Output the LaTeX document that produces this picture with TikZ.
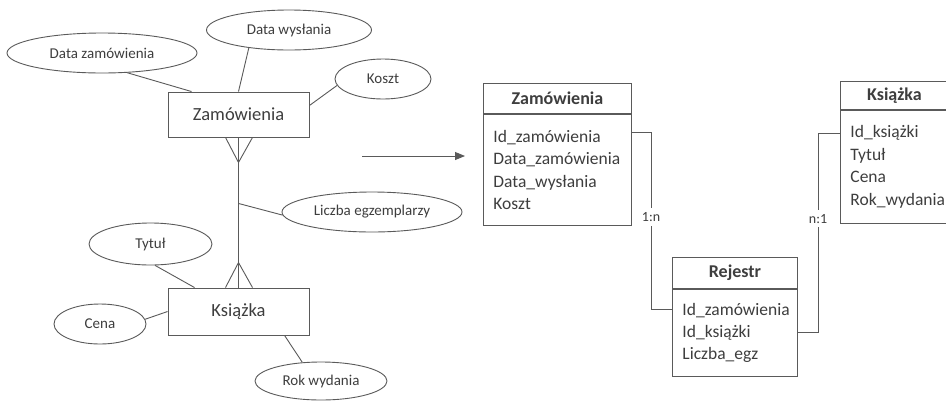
\documentclass[tikz,border=0pt]{standalone}
\usepackage{fontspec}
\setmainfont{Carlito}
\usetikzlibrary{shapes.geometric,arrows.meta,calc}
\definecolor{linec}{HTML}{5A5A5A}
\definecolor{txt}{HTML}{3E3E3E}
\begin{document}
\begin{tikzpicture}[x=1pt,y=-1pt,
  line width=0.9pt,
  entity/.style={draw=linec, rectangle, inner sep=0pt, minimum width=141pt, text=txt,
                 font=\fontsize{18.5}{20}\selectfont},
  attr/.style={draw=linec, ellipse, inner sep=0pt, text=txt, font=\fontsize{15}{17}\selectfont},
  thead/.style={draw=linec, rectangle, inner sep=0pt, text=txt,
                font=\bfseries\fontsize{18}{20}\selectfont},
  tbody/.style={draw=linec, rectangle, inner xsep=10pt, inner ysep=0pt, text=txt, align=left,
                font=\fontsize{17.5}{22.4}\selectfont},
  card/.style={fill=white, inner xsep=1pt, inner ysep=4pt, text=txt, font=\fontsize{14}{16}\selectfont},
  link/.style={draw=linec}
]
\fill[white] (0,0) rectangle (946,400);
\useasboundingbox (0,0) rectangle (946,400);
\clip (0,0) rectangle (946,400);

% ---------- ER diagram ----------
\node[entity, minimum height=45pt] (zm) at (238.5,114.5) {Zamówienia};
\node[entity, minimum height=47pt] (ks) at (238.5,311.5) {Książka};

\node[attr, minimum width=190pt, minimum height=40pt] (dz) at (102,53) {Data zamówienia};
\node[attr, minimum width=165pt, minimum height=40pt] (dw) at (289,30) {Data wysłania};
\node[attr, minimum width=96pt, minimum height=40pt] (ko) at (383,79) {Koszt};
\node[attr, minimum width=180pt, minimum height=40pt] (lz) at (372,212) {Liczba egzemplarzy};
\node[attr, minimum width=123pt, minimum height=42pt] (ty) at (150.5,244) {Tytuł};
\node[attr, minimum width=92pt, minimum height=40pt] (ce) at (100,324) {Cena};
\node[attr, minimum width=132pt, minimum height=38pt] (rk) at (321,381) {Rok wydania};

\draw[link] (dz.-38) -- ($(zm.north west)+(24,0)$);
\draw[link] (dw.204) -- (zm.north);
\draw[link] (ko.188) -- ($(zm.east)+(0,-9)$);
\draw[link] (ty.-78) -- ($(ks.north west)+(27,0)$);
\draw[link] (ce.6) -- (ks.west);
\draw[link] (rk.135) -- ($(ks.south west)+(117,0)$);

% relationship with crow's feet at both ends
\draw[link] (zm.south) -- (ks.north);
\coordinate (topapex) at ($(zm.south)+(0,25)$);
\coordinate (botapex) at ($(ks.north)+(0,-25)$);
\draw[link] ($(zm.south)+(-13,0)$) -- (topapex) -- ($(zm.south)+(14,0)$);
\draw[link] ($(ks.north)+(-13,0)$) -- (botapex) -- ($(ks.north)+(14,0)$);
\coordinate (lzfoot) at ($(zm.south)+(0,66)$);
\draw[link] (lzfoot) -- (lz.182);

% ---------- transformation arrow ----------
\coordinate (arrA) at (362,156);
\coordinate (arrB) at (465,156);
\draw[link, -{Triangle[length=10pt,width=8pt]}] (arrA) -- (arrB);

% ---------- relational tables ----------
\node[thead, minimum width=148pt, minimum height=30pt, anchor=north west] (zh) at (483,83) {Zamówienia};
\node[tbody, minimum width=148pt, text width=128pt, minimum height=111pt, anchor=north] (zb) at (zh.south)
  {Id\_zamówienia\\Data\_zamówienia\\Data\_wysłania\\Koszt};

\node[thead, minimum width=125pt, minimum height=31pt, anchor=north west] (rh) at (672,257) {Rejestr};
\node[tbody, minimum width=125pt, text width=105pt, minimum height=87pt, anchor=north] (rb) at (rh.south)
  {Id\_zamówienia\\Id\_książki\\Liczba\_egz};

\node[thead, minimum width=108pt, minimum height=28pt, anchor=north west] (kh) at (840,81) {Książka};
\node[tbody, minimum width=108pt, text width=88pt, minimum height=113pt, anchor=north] (kb) at (kh.south)
  {Id\_książki\\Tytuł\\Cena\\Rok\_wydania};

% foreign-key links
\coordinate (p1) at (651,132);
\coordinate (p2) at (651,309);
\draw[link] (zb.east |- p1) -- (p1) -- node[card, pos=0.48] (lab1) {1:n} (p2) -- (rb.west |- p2);

\coordinate (q1) at (818,133);
\coordinate (q2) at (818,332);
\draw[link] (kb.west |- q1) -- (q1) -- node[card, pos=0.43] (lab2) {n:1} (q2) -- (rb.east |- q2);
\end{tikzpicture}
\end{document}
